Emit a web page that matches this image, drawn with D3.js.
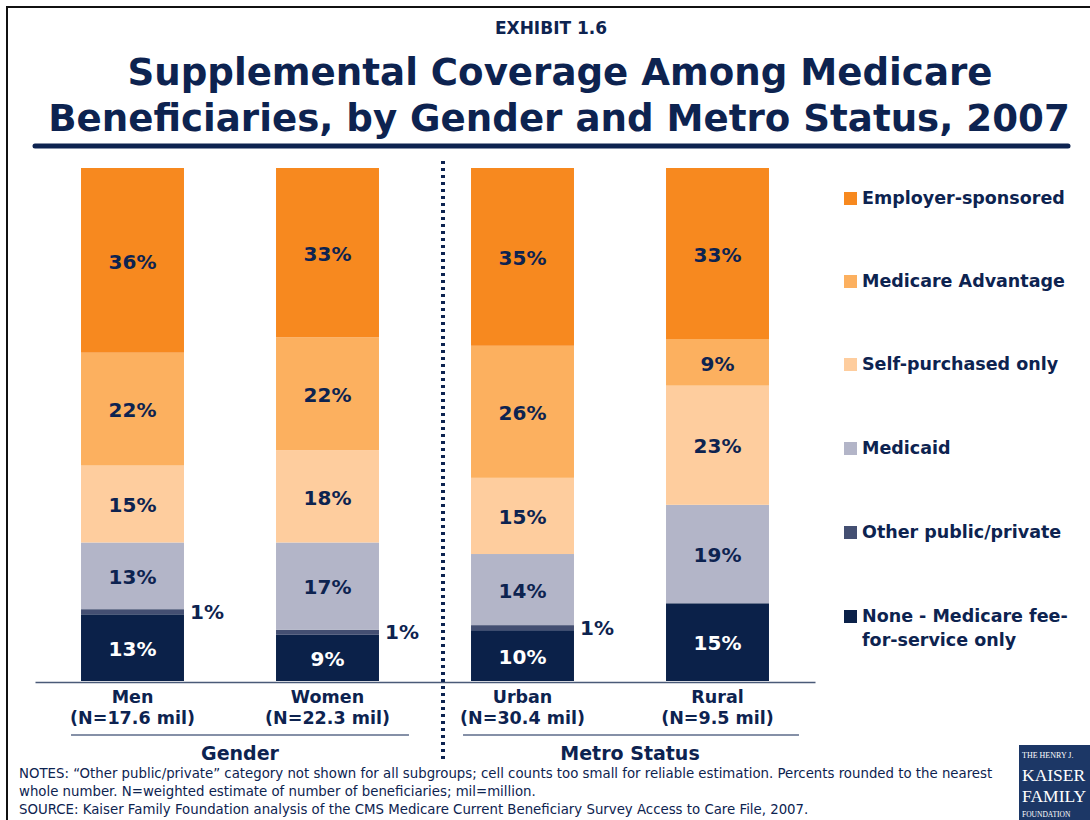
<!DOCTYPE html>
<html>
<head>
<meta charset="utf-8">
<script src="https://cdn.jsdelivr.net/npm/d3@7"></script>
<style>
  html, body { margin: 0; padding: 0; background: #fff; overflow: hidden; }
  svg { display: block; }
</style>
</head>
<body>
<svg id="chart" width="1090" height="820"></svg>
<script>
// ---- Data ----
const categories = ["Men", "Women", "Urban", "Rural"];
const categoryN = ["(N=17.6 mil)", "(N=22.3 mil)", "(N=30.4 mil)", "(N=9.5 mil)"];
const groups = ["Gender", "Metro Status"];
const groupMembers = [["Men", "Women"], ["Urban", "Rural"]];
const seriesNames = ["None - Medicare fee-for-service only", "Other public/private", "Medicaid",
                     "Self-purchased only", "Medicare Advantage", "Employer-sponsored"];
const noneFFS     = [13, 9, 10, 15];
const otherPublic = [1, 1, 1, 0];
const medicaid    = [13, 17, 14, 19];
const selfPurch   = [15, 18, 15, 23];
const medAdv      = [22, 22, 26, 9];
const employer    = [36, 33, 35, 33];
const legendLines = [["Employer-sponsored"], ["Medicare Advantage"], ["Self-purchased only"],
                     ["Medicaid"], ["Other public/private"], ["None - Medicare fee-", "for-service only"]];
const notes = [
  "NOTES: \u201cOther public/private\u201d category not shown for all subgroups; cell counts too small for reliable estimation. Percents rounded to the nearest",
  "whole number. N=weighted estimate of number of beneficiaries; mil=million.",
  "SOURCE: Kaiser Family Foundation analysis of the CMS Medicare Current Beneficiary Survey Access to Care File, 2007."
];

const seriesArrays = [noneFFS, otherPublic, medicaid, selfPurch, medAdv, employer];
const colors = ["#0b2149", "#444f72", "#b3b5c8", "#fecd9e", "#fcb05f", "#f7891f"];
const labelColors = ["#ffffff", "#0d2350", "#0d2350", "#0d2350", "#0d2350", "#0d2350"];
const navy = "#0d2350";

const table = categories.map((c, i) => {
  const row = { cat: c };
  seriesNames.forEach((s, j) => row[s] = seriesArrays[j][i]);
  return row;
});

const svg = d3.select("#chart");

// Frame
svg.append("rect").attr("x", 7).attr("y", 7).attr("width", 1100).attr("height", 830)
  .attr("fill", "none").attr("stroke", "#111").attr("stroke-width", 2);

// Titles
svg.append("text").attr("x", 551).attr("y", 34).attr("text-anchor", "middle")
  .attr("font-family", "DejaVu Sans").attr("font-weight", "bold").attr("font-size", 17)
  .attr("fill", navy).text("EXHIBIT 1.6");

const t1 = svg.append("text").attr("x", 560).attr("y", 85).attr("text-anchor", "middle")
  .attr("font-family", "DejaVu Sans").attr("font-weight", "bold").attr("font-size", 38)
  .attr("fill", navy).text("Supplemental Coverage Among Medicare");
const t2 = svg.append("text").attr("x", 559).attr("y", 131).attr("text-anchor", "middle")
  .attr("font-family", "DejaVu Sans").attr("font-weight", "bold").attr("font-size", 38)
  .attr("fill", navy).text("Beneficiaries, by Gender and Metro Status, 2007");
const w2 = t2.node().getComputedTextLength();
const fs = 38 * 1022 / w2;
t1.attr("font-size", fs); t2.attr("font-size", fs);

svg.append("line").attr("x1", 35).attr("x2", 1068).attr("y1", 146).attr("y2", 146)
  .attr("stroke", navy).attr("stroke-width", 5).attr("stroke-linecap", "round");

// Scales
const x = d3.scaleBand().domain(categories).range([35, 815]).paddingInner(0.472).paddingOuter(0.236);
const y = d3.scaleLinear().domain([0, 1]).range([681, 168]);

const stack = d3.stack().keys(seriesNames).offset(d3.stackOffsetExpand);
const stacked = stack(table);

const layers = svg.append("g").selectAll("g").data(stacked).join("g")
  .attr("fill", (d, i) => colors[i]);
layers.selectAll("rect").data(d => d).join("rect")
  .attr("x", d => x(d.data.cat))
  .attr("width", x.bandwidth())
  .attr("y", d => y(d[1]))
  .attr("height", d => Math.max(0, y(d[0]) - y(d[1])));

// Labels
stacked.forEach((layer, li) => {
  layer.forEach((d, ci) => {
    const v = seriesArrays[li][ci];
    if (!v) return;
    const mid = (y(d[0]) + y(d[1])) / 2;
    const small = v <= 2;
    svg.append("text")
      .attr("x", small ? x(d.data.cat) + x.bandwidth() + 6 : x(d.data.cat) + x.bandwidth() / 2)
      .attr("y", small ? mid : mid + 1)
      .attr("dy", "0.36em")
      .attr("text-anchor", small ? "start" : "middle")
      .attr("font-family", "DejaVu Sans").attr("font-weight", "bold").attr("font-size", 20)
      .attr("fill", small ? navy : labelColors[li])
      .text(v + "%");
  });
});

// Baseline axis
const xAxis = d3.axisBottom(x).tickSize(0).tickFormat("");
const ax = svg.append("g").attr("transform", "translate(0,682)").call(xAxis);
ax.select(".domain").attr("stroke", "#4a5a78").attr("stroke-width", 1.5);

// Category labels
categories.forEach((c, i) => {
  const cx = x(c) + x.bandwidth() / 2;
  svg.append("text").attr("x", cx).attr("y", 703).attr("text-anchor", "middle")
    .attr("font-family", "DejaVu Sans").attr("font-weight", "bold").attr("font-size", 17.5)
    .attr("fill", navy).text(c);
  svg.append("text").attr("x", cx).attr("y", 724).attr("text-anchor", "middle")
    .attr("font-family", "DejaVu Sans").attr("font-weight", "bold").attr("font-size", 17.5)
    .attr("fill", navy).text(categoryN[i]);
});

// Group labels + underlines
groups.forEach((g, gi) => {
  const m = groupMembers[gi];
  const x0 = x(m[0]) - (gi ? 8 : 10), x1 = x(m[m.length - 1]) + x.bandwidth() + 30;
  const cx = (x(m[0]) + x(m[m.length - 1]) + x.bandwidth()) / 2;
  svg.append("line").attr("x1", x0).attr("x2", x1)
    .attr("y1", 735).attr("y2", 735).attr("stroke", navy).attr("stroke-width", 1.2);
  svg.append("text").attr("x", cx + 10).attr("y", 760).attr("text-anchor", "middle")
    .attr("font-family", "DejaVu Sans").attr("font-weight", "bold").attr("font-size", 19)
    .attr("fill", navy).text(g);
});

// Divider
svg.append("line").attr("x1", 443).attr("x2", 443).attr("y1", 161).attr("y2", 760)
  .attr("stroke", navy).attr("stroke-width", 4).attr("stroke-dasharray", "3,4");

// Legend
const legendY = [198, 281, 364, 448, 532, 616];
legendLines.forEach((lines, i) => {
  const ci = seriesNames.length - 1 - i;
  svg.append("rect").attr("x", 844).attr("y", legendY[i] - 6).attr("width", 13).attr("height", 13)
    .attr("fill", colors[ci]);
  lines.forEach((ln, k) => {
    svg.append("text").attr("x", 862).attr("y", legendY[i] + 6 + k * 24)
      .attr("font-family", "DejaVu Sans").attr("font-weight", "bold").attr("font-size", 17.5)
      .attr("fill", navy).text(ln);
  });
});

// Notes
const noteTexts = notes.map((n, i) => svg.append("text").attr("x", 19).attr("y", 778 + i * 18)
    .attr("font-family", "DejaVu Sans").attr("font-size", 12)
    .attr("fill", navy).text(n));
const nw = noteTexts[0].node().getComputedTextLength();
const nfs = 12 * 974 / nw;
noteTexts.forEach(t => t.attr("font-size", nfs));

// Logo
const logo = svg.append("g");
logo.append("rect").attr("x", 1019).attr("y", 745).attr("width", 80).attr("height", 80).attr("fill", "#1c3766");
[["THE HENRY J.", 8, 758], ["KAISER", 17.5, 781], ["FAMILY", 17.5, 802], ["FOUNDATION", 7.5, 817]].forEach(t => {
  logo.append("text").attr("x", 1022).attr("y", t[2]).attr("font-family", "Liberation Serif")
    .attr("font-size", t[1]).attr("fill", "#ffffff").text(t[0]);
});
</script>
</body>
</html>
